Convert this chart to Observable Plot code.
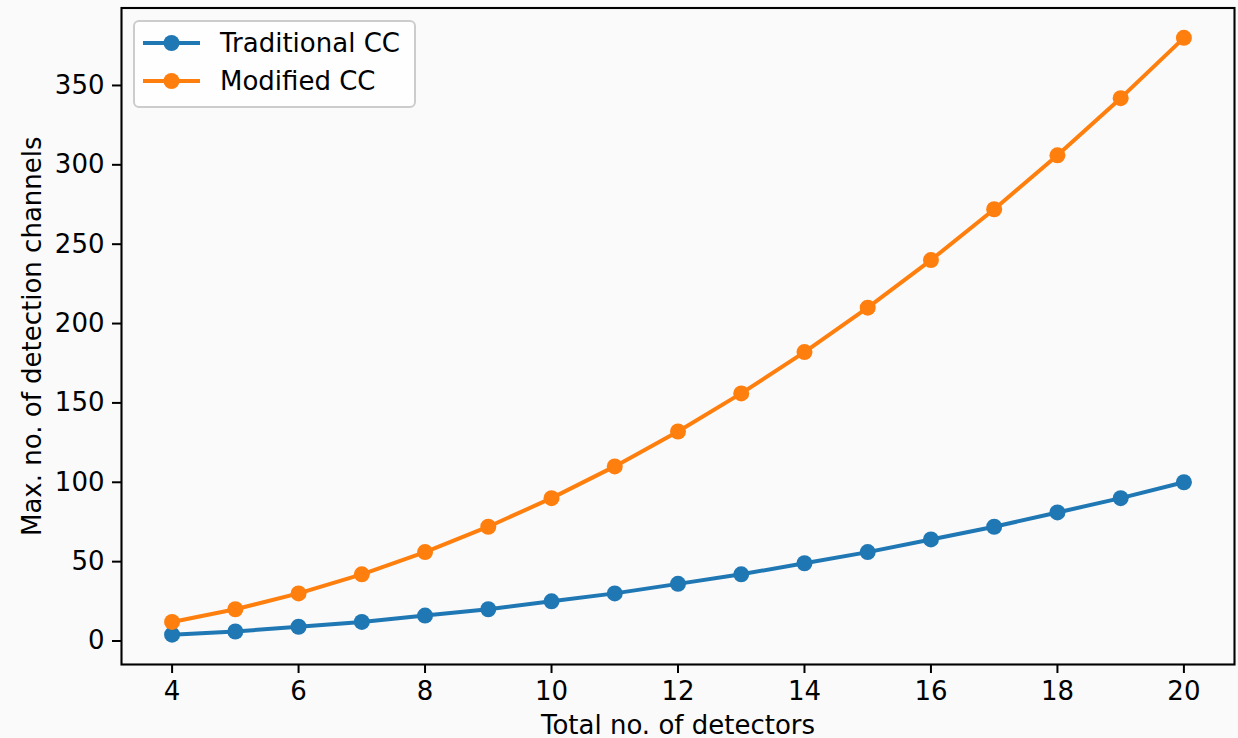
<!DOCTYPE html>
<html>
<head>
<meta charset="utf-8">
<script src="https://cdn.jsdelivr.net/npm/d3@7"></script>
<script src="https://cdn.jsdelivr.net/npm/@observablehq/plot@0.6"></script>
<style>
  html, body { margin: 0; padding: 0; background: #fafafa; }
  #chart { width: 1238px; height: 738px; overflow: hidden; }
</style>
</head>
<body>
<div id="chart"></div>
<script>
// Data
const detectors = [4, 5, 6, 7, 8, 9, 10, 11, 12, 13, 14, 15, 16, 17, 18, 19, 20];
const traditionalCC = [4, 6, 9, 12, 16, 20, 25, 30, 36, 42, 49, 56, 64, 72, 81, 90, 100];
const modifiedCC = [12, 20, 30, 42, 56, 72, 90, 110, 132, 156, 182, 210, 240, 272, 306, 342, 380];
const seriesNames = ["Traditional CC", "Modified CC"];
const seriesColors = ["#1f77b4", "#ff7f0e"];
const xTicks = [4, 6, 8, 10, 12, 14, 16, 18, 20];
const yTicks = [0, 50, 100, 150, 200, 250, 300, 350];
const xLabel = "Total no. of detectors";
const yLabel = "Max. no. of detection channels";

const trad = detectors.map((d, i) => ({x: d, y: traditionalCC[i]}));
const mod = detectors.map((d, i) => ({x: d, y: modifiedCC[i]}));

const FONT = "DejaVu Sans";
const TICK_FS = 26;
const chart = Plot.plot({
  width: 1238,
  height: 738,
  marginLeft: 121,
  marginRight: 4,
  marginTop: 7.5,
  marginBottom: 74,
  style: {background: "#fafafa", fontFamily: FONT, fontSize: TICK_FS + "px", color: "#000"},
  x: {domain: [3.2, 20.8]},
  y: {domain: [-14.8, 398.8]},
  marks: [
    Plot.axisX({ticks: xTicks, tickSize: 9, tickPadding: 8, tickFormat: d => String(d), label: null, fontSize: TICK_FS, strokeWidth: 2}),
    Plot.axisY({ticks: yTicks, tickSize: 9, tickPadding: 8, tickFormat: d => String(d), label: null, fontSize: TICK_FS, strokeWidth: 2}),
    Plot.line(trad, {x: "x", y: "y", stroke: seriesColors[0], strokeWidth: 4}),
    Plot.dot(trad, {x: "x", y: "y", fill: seriesColors[0], r: 8}),
    Plot.line(mod, {x: "x", y: "y", stroke: seriesColors[1], strokeWidth: 4}),
    Plot.dot(mod, {x: "x", y: "y", fill: seriesColors[1], r: 8}),
    Plot.frame({stroke: "#000", strokeWidth: 2.1}),
    Plot.text([xLabel], {frameAnchor: "bottom", dy: 61, fontSize: 26, fill: "#000", lineAnchor: "middle", textAnchor: "middle"}),
    Plot.text([yLabel], {frameAnchor: "left", dx: -89, rotate: -90, fontSize: 26, fill: "#000", lineAnchor: "middle", textAnchor: "middle"})
  ]
});

// Legend inside the axes (upper left)
const svg = d3.select(chart);
const lg = svg.append("g").attr("font-family", FONT).attr("font-size", 26).attr("text-anchor", "start");
lg.append("rect")
  .attr("x", 134).attr("y", 21).attr("width", 281).attr("height", 86)
  .attr("rx", 5).attr("ry", 5)
  .attr("fill", "#ffffff").attr("fill-opacity", 0.8)
  .attr("stroke", "#cccccc").attr("stroke-width", 2);
const rowsY = [43, 81];
seriesNames.forEach((name, i) => {
  const y = rowsY[i];
  lg.append("line").attr("x1", 143).attr("x2", 200).attr("y1", y).attr("y2", y)
    .attr("stroke", seriesColors[i]).attr("stroke-width", 4);
  lg.append("circle").attr("cx", 171.5).attr("cy", y).attr("r", 8).attr("fill", seriesColors[i]);
  lg.append("text").attr("x", 220).attr("y", y).attr("dy", "0.35em")
    .attr("text-anchor", "start").attr("fill", "#000").text(name);
});

document.getElementById("chart").appendChild(chart);
</script>
</body>
</html>
